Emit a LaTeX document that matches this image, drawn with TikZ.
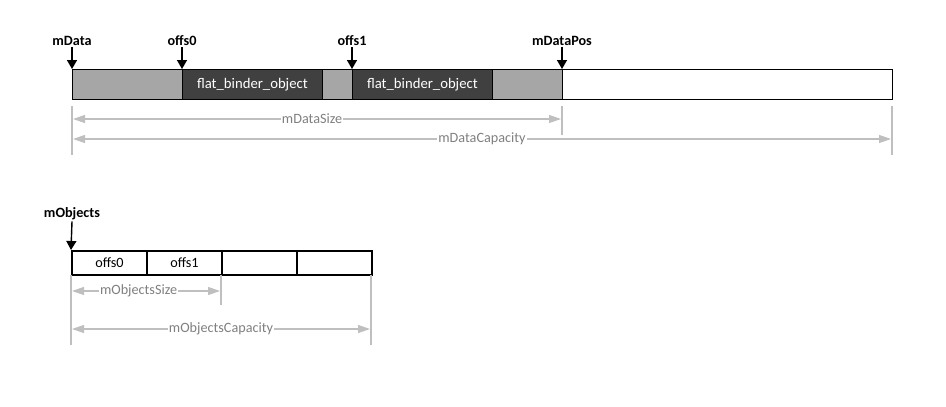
\documentclass[tikz,border=0pt]{standalone}
\usepackage{fontspec}
\setmainfont{Carlito}
\usetikzlibrary{arrows.meta}
\definecolor{segGray}{RGB}{166,166,166}
\definecolor{segDark}{RGB}{64,64,64}
\definecolor{dimLine}{RGB}{191,191,191}
\definecolor{dimText}{RGB}{128,128,128}
\tikzset{
  seg/.style={draw=black, line width=0.8pt, minimum height=30pt, inner sep=0pt, anchor=north west},
  graySeg/.style={seg, fill=segGray},
  darkSeg/.style={seg, fill=segDark, text=white, font=\fontsize{14.7}{16}\selectfont},
  whiteSeg/.style={seg, fill=white},
  cell/.style={draw=black, line width=2pt, minimum height=24pt, minimum width=75pt, inner sep=0pt, anchor=north west, font=\fontsize{14.2}{16}\selectfont},
  ptrLabel/.style={font=\bfseries\fontsize{14.2}{16}\selectfont, inner sep=1pt},
  ptrArrow/.style={-{Triangle[length=9pt,width=10pt]}, line width=1.4pt, black},
  extLine/.style={draw=dimLine, line width=1.2pt},
  dimArrow/.style={{Triangle[length=12pt,width=8pt]}-{Triangle[length=12pt,width=8pt]}, draw=dimLine, line width=1.2pt},
  dimLabel/.style={fill=white, text=dimText, font=\fontsize{14.2}{16}\selectfont, inner sep=1pt}
}
\begin{document}
\begin{tikzpicture}[x=1pt,y=-1pt]
\useasboundingbox (0,0) rectangle (946,407);
% top bar
\node[graySeg, minimum width=110pt] (g1) at (72,69) {};
\node[darkSeg, minimum width=140pt] (d1) at (182,69) {flat\_binder\_object};
\node[graySeg, minimum width=30pt] (g2) at (322,69) {};
\node[darkSeg, minimum width=140pt] (d2) at (352,69) {flat\_binder\_object};
\node[graySeg, minimum width=70pt] (g3) at (492,69) {};
\node[whiteSeg, minimum width=330pt] (w1) at (562,69) {};
% pointer labels
\node[ptrLabel] (lData) at (72,41) {mData};
\node[ptrLabel] (lOffs0) at (182,41) {offs0};
\node[ptrLabel] (lOffs1) at (352,41) {offs1};
\node[ptrLabel] (lPos) at (562,41) {mDataPos};
\draw[ptrArrow] (lData.south) -- (g1.north west);
\draw[ptrArrow] (lOffs0.south) -- (d1.north west);
\draw[ptrArrow] (lOffs1.south) -- (d2.north west);
\draw[ptrArrow] (lPos.south) -- (w1.north west);
% extension lines top
\coordinate (e1a) at (72,106); \coordinate (e1b) at (72,155);
\coordinate (e2a) at (562,106); \coordinate (e2b) at (562,135);
\coordinate (e3a) at (892,106); \coordinate (e3b) at (892,155);
\draw[extLine] (e1a) -- (e1b);
\draw[extLine] (e2a) -- (e2b);
\draw[extLine] (e3a) -- (e3b);
\coordinate (s1) at (73,119); \coordinate (s2) at (561,119);
\coordinate (c1) at (73,139); \coordinate (c2) at (891,139);
\draw[dimArrow] (s1) -- node[dimLabel, pos=0.49] (lSize) {mDataSize} (s2);
\draw[dimArrow] (c1) -- node[dimLabel] (lCap) {mDataCapacity} (c2);
% bottom
\node[cell] (o0) at (71,250) {offs0};
\node[cell] (o1) at (146,250) {offs1};
\node[cell] (o2) at (221,250) {};
\node[cell] (o3) at (296,250) {};
\node[ptrLabel] (lObj) at (72,214) {mObjects};
\draw[ptrArrow] (lObj.south) -- (o0.north west);
\coordinate (f1a) at (71,275); \coordinate (f1b) at (71,345);
\coordinate (f2a) at (221,275); \coordinate (f2b) at (221,305);
\coordinate (f3a) at (371,275); \coordinate (f3b) at (371,345);
\draw[extLine] (f1a) -- (f1b);
\draw[extLine] (f2a) -- (f2b);
\draw[extLine] (f3a) -- (f3b);
\coordinate (os1) at (72,291); \coordinate (os2) at (220,291);
\coordinate (oc1) at (72,329); \coordinate (oc2) at (370,329);
\draw[dimArrow] (os1) -- node[dimLabel, pos=0.45] (lOSize) {mObjectsSize} (os2);
\draw[dimArrow] (oc1) -- node[dimLabel] (lOCap) {mObjectsCapacity} (oc2);
\end{tikzpicture}
\end{document}
